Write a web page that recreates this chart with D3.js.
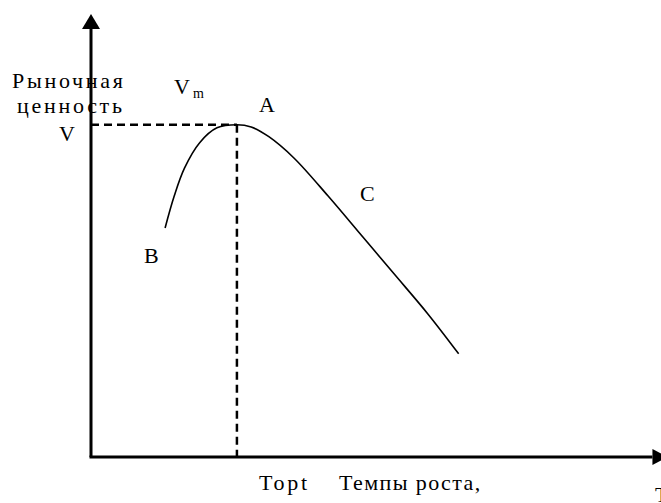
<!DOCTYPE html>
<html>
<head>
<meta charset="utf-8">
<script src="https://cdn.jsdelivr.net/npm/d3@7"></script>
<style>
  body { margin: 0; background: #fff; }
</style>
</head>
<body>
<div id="chart"></div>
<script>
const width = 661;
const height = 503;

// curve: growth rate (x) vs market value (y), arbitrary units
const growthRate = [13.0, 14.6, 16.4, 19.1, 22.1, 25.6, 28.1, 31.2, 35.6, 41.6, 47.4, 53.2, 59.1, 64.5];
const marketValue = [51.7, 58.9, 65.2, 71.0, 74.3, 75.0, 74.5, 72.3, 67.5, 58.9, 50.1, 41.3, 32.3, 23.3];

// optimum point (Topt, V)
const optimum = { x: 25.6, y: 75.0 };

const pointLabels = ["A", "B", "C"];
const yTitle = ["Рыночная", "ценность"];
const xTitle = ["Topt", "Темпы роста,", "T"];

const x = d3.scaleLinear().domain([0, 100]).range([91, 661]);
const y = d3.scaleLinear().domain([0, 100]).range([457, 14]);

const svg = d3.select("#chart")
  .append("svg")
  .attr("width", width)
  .attr("height", height)
  .attr("font-family", "'Liberation Serif', 'DejaVu Serif', serif");

// axes
svg.append("line")
  .attr("x1", x(0)).attr("y1", y(0))
  .attr("x2", x(0)).attr("y2", y(97))
  .attr("stroke", "#000")
  .attr("stroke-width", 3);

svg.append("line")
  .attr("x1", x(0) - 1.5).attr("y1", y(0))
  .attr("x2", x(98.5)).attr("y2", y(0))
  .attr("stroke", "#000")
  .attr("stroke-width", 3);

// arrow heads
svg.append("path")
  .attr("d", `M${x(0)},${y(100)} L${x(0) - 9},${y(100) + 15} L${x(0) + 9},${y(100) + 15} Z`)
  .attr("fill", "#000");

svg.append("path")
  .attr("d", `M${x(98.5) + 15},${y(0)} L${x(98.5)},${y(0) - 8} L${x(98.5)},${y(0) + 8} Z`)
  .attr("fill", "#000");

// dashed guides to the optimum
svg.append("line")
  .attr("x1", x(0)).attr("y1", y(optimum.y))
  .attr("x2", x(optimum.x)).attr("y2", y(optimum.y))
  .attr("stroke", "#000")
  .attr("stroke-width", 2.5)
  .attr("stroke-dasharray", "8,5");

svg.append("line")
  .attr("x1", x(optimum.x)).attr("y1", y(optimum.y))
  .attr("x2", x(optimum.x)).attr("y2", y(0))
  .attr("stroke", "#000")
  .attr("stroke-width", 2.5)
  .attr("stroke-dasharray", "8,5");

// the curve
const line = d3.line()
  .x((d, i) => x(growthRate[i]))
  .y(d => y(d))
  .curve(d3.curveCatmullRom.alpha(0.5));

svg.append("path")
  .attr("d", line(marketValue))
  .attr("fill", "none")
  .attr("stroke", "#000")
  .attr("stroke-width", 1.6);

// labels
function label(txt, px, py, size, spacing) {
  return svg.append("text")
    .attr("x", px)
    .attr("y", py)
    .attr("font-size", size)
    .attr("fill", "#000")
    .style("letter-spacing", spacing + "px")
    .text(txt);
}

label(yTitle[0], 12, 88, 22, 2.7);
label(yTitle[1], 17, 113, 22, 2.7);
label("V", 59, 141, 22, 0);

label("V", 174, 94, 22, 0);
label("m", 193, 98, 14, 0);

label(pointLabels[0], 259, 112, 22, 0);
label(pointLabels[1], 144, 263, 22, 0);
label(pointLabels[2], 360, 201, 22, 0);

label(xTitle[0], 259, 490, 22, 2.7);
label(xTitle[1], 339, 490, 22, 1.4);
label(xTitle[2], 655, 502, 22, 0);
</script>
</body>
</html>
